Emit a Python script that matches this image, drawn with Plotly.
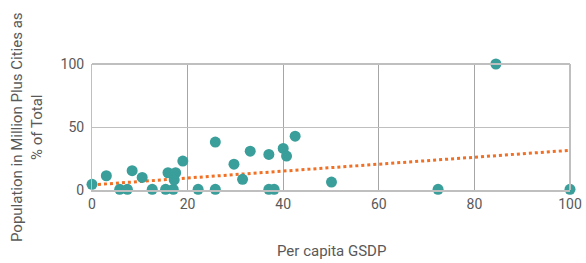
import plotly.graph_objects as go

gsdp = [0, 3.0, 5.8, 7.4, 8.4, 10.5, 12.6, 15.4, 17.0, 15.9, 17.5, 17.2, 19.0, 22.2,
        25.8, 25.8, 29.7, 31.5, 33.1, 37.0, 37.0, 38.1, 40.0, 40.7, 42.5, 50.1,
        72.4, 84.5, 100]
pop_share = [4.5, 11.3, 0.5, 0.5, 15.3, 10.0, 0.5, 0.5, 0.5, 13.7, 13.7, 8.0, 23.0, 0.5,
             0.5, 38.0, 20.5, 8.5, 30.8, 28.2, 0.5, 0.5, 33.0, 26.9, 42.7, 6.3,
             0.5, 100, 0.5]
trend_x = [0, 100]
trend_y = [4.0, 31.5]

x_ticks = [0, 20, 40, 60, 80, 100]
y_ticks = [0, 50, 100]

fig = go.Figure()
fig.add_trace(go.Scatter(x=trend_x, y=trend_y, mode="lines",
                         line=dict(color="#f07025", width=3, dash="dot"),
                         cliponaxis=False, showlegend=False, hoverinfo="skip"))
fig.add_trace(go.Scatter(x=gsdp, y=pop_share, mode="markers",
                         marker=dict(color="#3a9e9a", size=11),
                         cliponaxis=False, showlegend=False))

font = "Roboto, 'DejaVu Sans Condensed', sans-serif"
grey = "#595959"
fig.update_layout(
    width=586, height=263,
    margin=dict(l=92, r=16, t=64, b=73),
    paper_bgcolor="white", plot_bgcolor="white",
    font=dict(family=font, color=grey, size=14),
    xaxis=dict(range=[0, 100], tickvals=x_ticks, showgrid=True, gridcolor="#a6a6a6",
               gridwidth=1, zeroline=False, showline=True, linecolor="#bfbfbf", linewidth=2,
               ticks="", tickfont=dict(size=14, color=grey), automargin=False),
    yaxis=dict(range=[0, 100], tickvals=y_ticks, showgrid=True, gridcolor="#bfbfbf",
               gridwidth=1, zeroline=False, showline=True, linecolor="#bfbfbf", linewidth=1,
               ticks="", tickfont=dict(size=14, color=grey), ticklabelstandoff=4,
               automargin=False),
)
fig.add_shape(type="line", xref="paper", yref="paper", x0=0, x1=1, y0=1, y1=1,
              line=dict(color="#bfbfbf", width=2))
fig.add_shape(type="line", xref="paper", yref="paper", x0=1, x1=1, y0=0, y1=1,
              line=dict(color="#bfbfbf", width=2))
fig.add_annotation(text="Per capita GSDP", xref="paper", yref="paper", x=0.5, y=0,
                   yshift=-61, showarrow=False, font=dict(size=15, color=grey),
                   xanchor="center", yanchor="middle")
fig.add_annotation(text="Population in Million Plus Cities as<br>% of Total",
                   xref="paper", yref="paper", x=0, y=0.5, xshift=-65, yshift=0,
                   showarrow=False, textangle=-90, font=dict(size=15, color=grey),
                   xanchor="center", yanchor="middle")

fig.write_html("out.html", config={"displayModeBar": False},
               post_script="document.body.style.margin='0';document.body.style.overflow='hidden';")
